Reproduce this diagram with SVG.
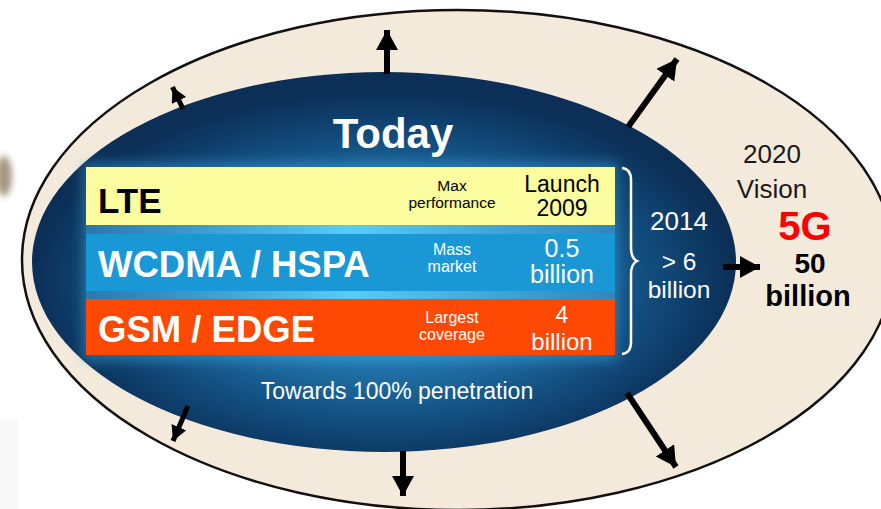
<svg xmlns="http://www.w3.org/2000/svg" width="881" height="509" viewBox="0 0 881 509">
  <defs>
    <radialGradient id="innerGrad" cx="0.5" cy="0.55" r="0.5" fx="0.5" fy="0.55">
      <stop offset="0" stop-color="#49b6e6"/>
      <stop offset="0.4" stop-color="#2479b0"/>
      <stop offset="0.75" stop-color="#124d7e"/>
      <stop offset="1" stop-color="#0b2f57"/>
    </radialGradient>
    <linearGradient id="gapGrad" x1="0" y1="0" x2="1" y2="0">
      <stop offset="0" stop-color="#2a78ad"/>
      <stop offset="0.5" stop-color="#55cdf6"/>
      <stop offset="1" stop-color="#2f86bd"/>
    </linearGradient>
    <filter id="glow" x="-0.1" y="-0.2" width="1.2" height="1.4">
      <feGaussianBlur stdDeviation="6"/>
    </filter>
    <filter id="blob" x="-1" y="-1" width="3" height="3">
      <feGaussianBlur stdDeviation="3"/>
    </filter>
    <marker id="head" markerUnits="userSpaceOnUse" markerWidth="24" markerHeight="24" refX="20" refY="11" orient="auto">
      <path d="M0,0 L20,11 L0,22 Z" fill="#000"/>
    </marker>
    <marker id="headSmall" markerUnits="userSpaceOnUse" markerWidth="20" markerHeight="20" refX="15" refY="8" orient="auto">
      <path d="M0,0 L15,8 L0,16 Z" fill="#000"/>
    </marker>
  </defs>
  <style>
    text { font-family: "Liberation Sans", Arial, sans-serif; }
    .w { fill: #ffffff; }
    .k { fill: #000000; }
    .b { font-weight: bold; }
    .mid { text-anchor: middle; }
    .arrow { stroke: #000; stroke-width: 6; fill: none; marker-end: url(#head); }
    .arrowS { stroke: #000; stroke-width: 5; fill: none; marker-end: url(#headSmall); }
  </style>

  <rect x="0" y="0" width="881" height="509" fill="#ffffff"/>
  <!-- faint artifacts on the left edge -->
  <ellipse cx="4" cy="176" rx="8" ry="20" fill="#8a7656" filter="url(#blob)" opacity="0.75"/>
  <rect x="0" y="420" width="18" height="89" fill="#f8f8f8"/>

  <g id="outer-vision">
    <ellipse cx="458" cy="260" rx="436" ry="250" fill="#f4eadb" stroke="#111" stroke-width="2.5"/>
  </g>

  <g id="today-ellipse">
    <ellipse cx="384" cy="262" rx="352" ry="190" fill="url(#innerGrad)"/>
    <rect x="82" y="162" width="536" height="200" fill="#3fb0e6" opacity="0.4" filter="url(#glow)"/>
    <text x="393" y="148" class="w b mid" font-size="42">Today</text>
  </g>

  <g id="row-gaps">
    <rect x="86" y="222" width="529" height="80" fill="url(#gapGrad)"/>
  </g>

  <g id="row-lte">
    <rect x="86" y="167" width="529" height="58" fill="#fcfd9e"/>
    <text x="98" y="213" class="k b" font-size="35">LTE</text>
    <text class="k mid" font-size="15.5"><tspan x="452" y="191">Max</tspan><tspan x="452" y="208">performance</tspan></text>
    <text class="k mid" font-size="23"><tspan x="562" y="192">Launch</tspan><tspan x="562" y="216">2009</tspan></text>
  </g>

  <g id="row-wcdma">
    <rect x="86" y="234" width="529" height="57" fill="#1a98d6"/>
    <text x="98" y="277" class="w b" font-size="36.5">WCDMA / HSPA</text>
    <text class="w mid" font-size="16"><tspan x="452" y="255">Mass</tspan><tspan x="452" y="272">market</tspan></text>
    <text class="w mid" font-size="25"><tspan x="562" y="257">0.5</tspan><tspan x="562" y="283">billion</tspan></text>
  </g>

  <g id="row-gsm">
    <rect x="86" y="299" width="529" height="56" fill="#fe4904"/>
    <text x="98" y="342" class="w b" font-size="36.5">GSM / EDGE</text>
    <text class="w mid" font-size="16"><tspan x="452" y="323">Largest</tspan><tspan x="452" y="340">coverage</tspan></text>
    <text x="562" y="323" class="w mid" font-size="23">4</text>
    <text x="562" y="350" class="w mid" font-size="24">billion</text>
  </g>

  <g id="brace-2014">
    <path d="M622,168 Q631,169 631,180 L631,248 Q631,258 637,261 Q631,264 631,274 L631,342 Q631,353 622,354" fill="none" stroke="#fff" stroke-width="2.5"/>
    <text x="679" y="230" class="w mid" font-size="26">2014</text>
    <text x="679" y="270" class="w mid" font-size="24.5">&gt; 6</text>
    <text x="679" y="298" class="w mid" font-size="24.5">billion</text>
  </g>

  <g id="towards">
    <text x="397" y="399" class="w mid" font-size="23">Towards 100% penetration</text>
  </g>

  <g id="vision-2020">
    <text class="mid" fill="#1a1a1a" font-size="26"><tspan x="772" y="163">2020</tspan><tspan x="772" y="198">Vision</tspan></text>
    <text x="805" y="240" class="b mid" fill="#ff0000" font-size="40">5G</text>
    <text x="810" y="273" class="k b mid" font-size="28">50</text>
    <text x="808" y="306" class="k b mid" font-size="29">billion</text>
  </g>

  <g id="connectors">
    <line x1="387" y1="74" x2="387" y2="30" class="arrow"/>
    <line x1="183" y1="109" x2="172.5" y2="87" class="arrowS"/>
    <line x1="628" y1="127" x2="677" y2="59" class="arrow"/>
    <line x1="723" y1="267" x2="760" y2="267" class="arrow"/>
    <line x1="188" y1="406" x2="173" y2="441" class="arrowS"/>
    <line x1="403" y1="451" x2="403" y2="496" class="arrow"/>
    <line x1="627" y1="393" x2="676" y2="467" class="arrow"/>
  </g>
</svg>
